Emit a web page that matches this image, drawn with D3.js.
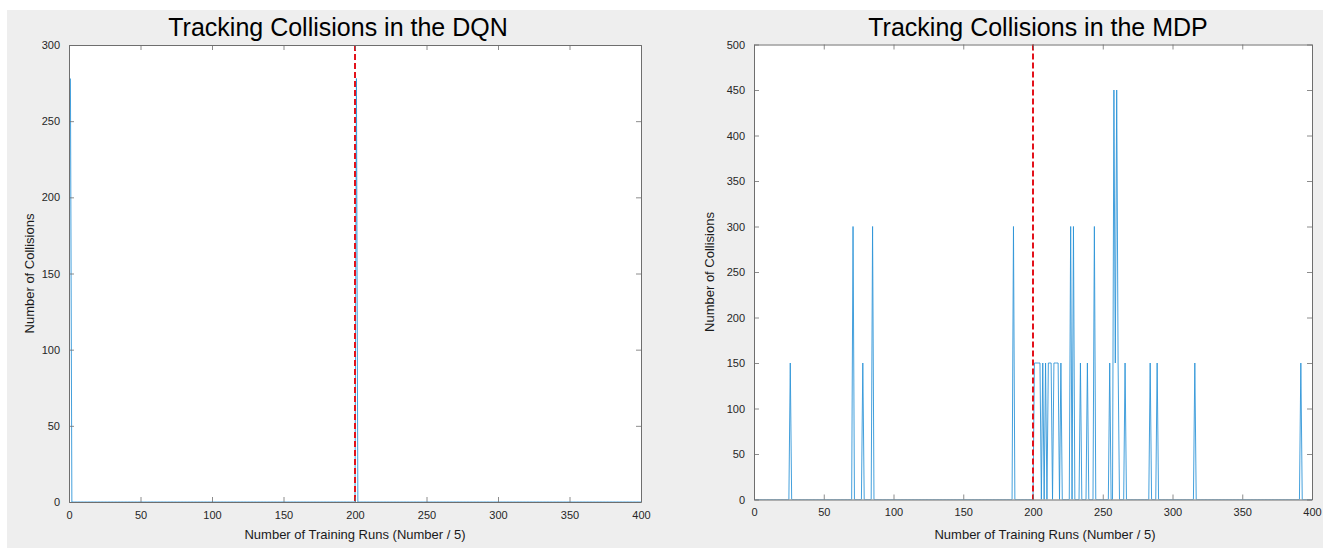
<!DOCTYPE html>
<html>
<head>
<meta charset="utf-8">
<script src="https://cdn.jsdelivr.net/npm/d3@7"></script>
<style>
  html, body { margin: 0; padding: 0; background: #ffffff; }
  svg { display: block; font-family: "Liberation Sans", Arial, Helvetica, sans-serif; }
</style>
</head>
<body>
<svg id="fig" width="1323" height="550"></svg>
<script>
// Number of training runs (bins of 5) recorded for each agent
const runCount = 400;

// DQN: runs with a non-zero collision count (all other runs are 0)
const dqnRuns = [1, 201];
const dqnCollisions = [278, 278];

// MDP: runs with a non-zero collision count (all other runs are 0)
const mdpRuns = [26, 71, 78, 85, 186,
  201, 202, 203, 204, 205, 207, 209, 211, 212, 213,
  215, 216, 217, 218, 220, 227, 229, 234, 239, 244,
  255, 258, 259, 260, 261, 266, 284, 289, 316, 392];
const mdpCollisions = [150, 300, 150, 300, 300,
  150, 150, 150, 150, 150, 150, 150, 150, 150, 150,
  150, 150, 150, 150, 150, 300, 300, 150, 150, 300,
  150, 450, 150, 450, 150, 150, 150, 150, 150, 150];

// Axis ticks
const xTicks = [0, 50, 100, 150, 200, 250, 300, 350, 400];
const dqnYTicks = [0, 50, 100, 150, 200, 250, 300];
const mdpYTicks = [0, 50, 100, 150, 200, 250, 300, 350, 400, 450, 500];

// Run where the environment switches (marked with a dashed line)
const switchRun = 200;

const titles = ["Tracking Collisions in the DQN", "Tracking Collisions in the MDP"];
const xLabel = "Number of Training Runs (Number / 5)";
const yLabel = "Number of Collisions";

// Expand sparse events into a full per-run series
function buildSeries(runs, values) {
  const lookup = new Map(runs.map((r, i) => [r, values[i]]));
  return d3.range(1, runCount + 1).map(r => ({ run: r, value: lookup.get(r) || 0 }));
}

const svg = d3.select("#fig");

// Figure background
svg.append("rect")
  .attr("x", 7).attr("y", 10).attr("width", 1316).attr("height", 538)
  .attr("fill", "#eeeeee");

function drawPanel(opts) {
  const { left, right, top, bottom, yMax, yTicks, series, title, titleX, xLabelX, yLabelX, id } = opts;
  const x = d3.scaleLinear().domain([0, runCount]).range([left, right]);
  const y = d3.scaleLinear().domain([0, yMax]).range([bottom, top]);
  const g = svg.append("g");

  g.append("rect")
    .attr("x", left).attr("y", top)
    .attr("width", right - left).attr("height", bottom - top)
    .attr("fill", "#ffffff");

  g.append("clipPath").attr("id", id)
    .append("rect")
    .attr("x", left).attr("y", top - 1)
    .attr("width", right - left).attr("height", bottom - top + 1);

  // Collision series
  const line = d3.line().x(d => x(d.run)).y(d => y(d.value));
  g.append("path")
    .datum(series)
    .attr("clip-path", `url(#${id})`)
    .attr("fill", "none")
    .attr("stroke", "#2f95d8")
    .attr("stroke-width", 0.9)
    .attr("stroke-linejoin", "miter")
    .attr("d", line);

  // Switch marker
  g.append("line")
    .attr("x1", x(switchRun)).attr("x2", x(switchRun))
    .attr("y1", top).attr("y2", bottom)
    .attr("stroke", "#e3121b")
    .attr("stroke-width", 2)
    .attr("stroke-dasharray", "6,3");

  const axisColor = "#6e6e6e";
  const tickLen = 5;

  // Bottom and left axes with inward ticks
  const xAxis = g.append("g")
    .attr("transform", `translate(0,${bottom})`)
    .call(d3.axisBottom(x).tickValues(xTicks).tickSizeInner(-tickLen).tickSizeOuter(0).tickPadding(9));
  const yAxis = g.append("g")
    .attr("transform", `translate(${left},0)`)
    .call(d3.axisLeft(y).tickValues(yTicks).tickSizeInner(-tickLen).tickSizeOuter(0).tickPadding(9));
  // Mirrored ticks on top and right
  const xTop = g.append("g")
    .attr("transform", `translate(0,${top})`)
    .call(d3.axisTop(x).tickValues(xTicks).tickSizeInner(-tickLen).tickSizeOuter(0).tickFormat(""));
  const yRight = g.append("g")
    .attr("transform", `translate(${right},0)`)
    .call(d3.axisRight(y).tickValues(yTicks).tickSizeInner(-tickLen).tickSizeOuter(0).tickFormat(""));

  [xAxis, yAxis, xTop, yRight].forEach(a => {
    a.select(".domain").attr("stroke", axisColor).attr("stroke-width", 1);
    a.selectAll(".tick line").attr("stroke", axisColor).attr("stroke-width", 0.8);
    a.selectAll(".tick text")
      .attr("fill", "#262626")
      .style("font-size", "11px")
      .style("font-family", "'Liberation Sans', Arial, sans-serif");
  });

  // Title
  g.append("text")
    .attr("x", titleX).attr("y", 36)
    .attr("text-anchor", "middle")
    .style("font-size", "25px")
    .attr("fill", "#000000")
    .text(title);

  // Axis labels
  g.append("text")
    .attr("x", xLabelX).attr("y", 539)
    .attr("text-anchor", "middle")
    .style("font-size", "13px")
    .attr("fill", "#1a1a1a")
    .text(xLabel);

  g.append("text")
    .attr("transform", `translate(${yLabelX},${(top + bottom) / 2}) rotate(-90)`)
    .attr("text-anchor", "middle")
    .style("font-size", "13px")
    .attr("fill", "#1a1a1a")
    .text(yLabel);
}

drawPanel({
  id: "clip-dqn",
  left: 69, right: 641, top: 45, bottom: 502,
  yMax: 300, yTicks: dqnYTicks,
  series: buildSeries(dqnRuns, dqnCollisions),
  title: titles[0], titleX: 338, xLabelX: 355, yLabelX: 34
});

drawPanel({
  id: "clip-mdp",
  left: 754, right: 1312, top: 44.5, bottom: 499.5,
  yMax: 500, yTicks: mdpYTicks,
  series: buildSeries(mdpRuns, mdpCollisions),
  title: titles[1], titleX: 1038, xLabelX: 1045, yLabelX: 714
});
</script>
</body>
</html>
